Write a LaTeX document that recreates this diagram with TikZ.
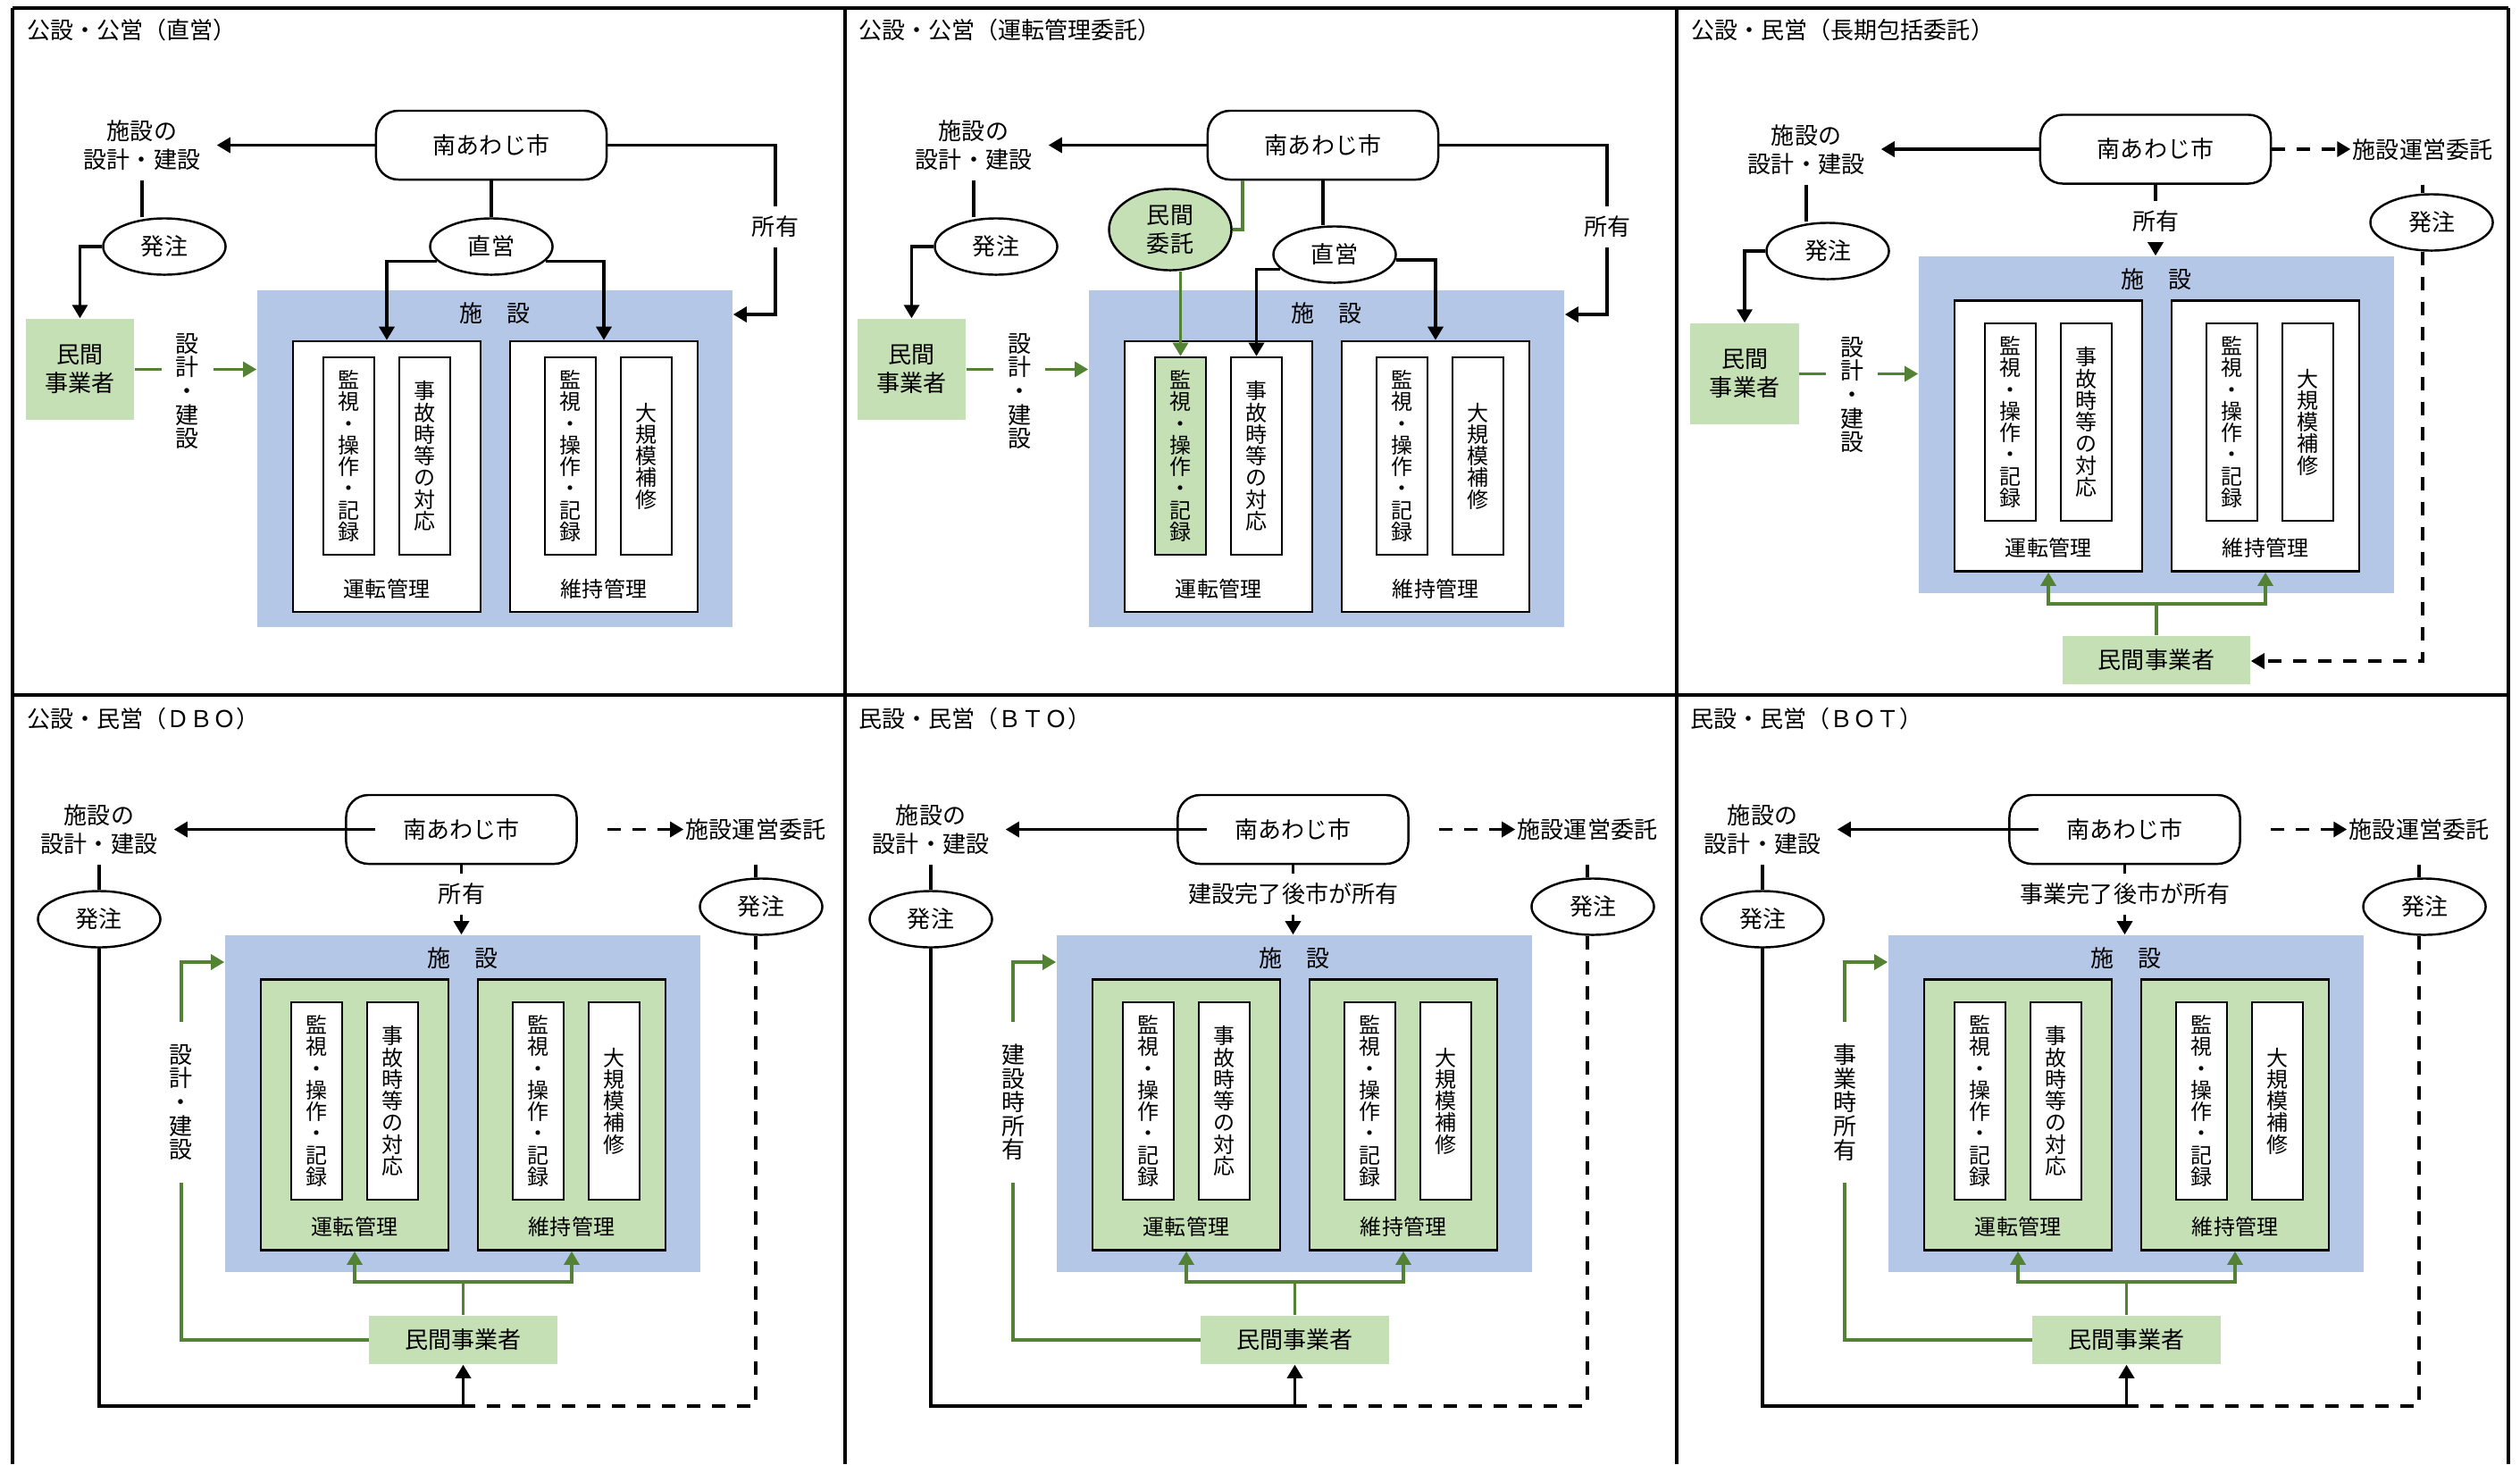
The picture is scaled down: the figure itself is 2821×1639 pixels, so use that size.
\documentclass[tikz,border=0pt]{standalone}
\usepackage{fontspec}
\setmainfont{Noto Sans CJK JP}
\usetikzlibrary{arrows.meta,shapes.geometric}
\definecolor{bfill}{HTML}{B4C7E7}
\definecolor{gfill}{HTML}{C5E0B4}
\definecolor{gline}{HTML}{548235}
\newcommand\fA{\fontsize{7.4pt}{9.1pt}\selectfont}
\newcommand\fB{\fontsize{6.83pt}{6.9pt}\selectfont\lineskiplimit=-20pt}
\newcommand\fC{\fontsize{7.4pt}{7.55pt}\selectfont\lineskiplimit=-20pt}
\newcommand\fD{\fontsize{6.83pt}{8pt}\selectfont}
\tikzset{
  frameline/.style={line width=0.9pt},
  bl/.style={line width=0.95pt},
  arr/.style={bl,-{Triangle[length=0.15cm,width=0.17cm]}},
  dl/.style={bl,dash pattern=on 0.15cm off 0.13cm},
  darr/.style={dl,-{Triangle[length=0.15cm,width=0.17cm]}},
  gl/.style={line width=0.9pt,draw=gline},
  garr/.style={gl,-{Triangle[length=0.15cm,width=0.17cm]}},
  ttl/.style={anchor=west,inner sep=0pt,font=\fA},
  city/.style={draw,line width=0.7pt,rounded corners=0.25cm,minimum width=2.58cm,minimum height=0.77cm,inner sep=0pt,font=\fA},
  cityc/.style={minimum width=2.58cm,minimum height=0.77cm,inner sep=0pt},
  des/.style={font=\fA,align=center,inner xsep=0.18cm,inner ysep=0pt,minimum height=0.76cm},
  desb/.style={font=\fA,inner xsep=0.02cm,inner ysep=0pt,minimum height=0.76cm},
  ell/.style={ellipse,draw,line width=0.7pt,fill=white,minimum width=1.37cm,minimum height=0.63cm,inner sep=0pt,font=\fA,align=center},
  minA/.style={fill=gfill,align=center,font=\fA,minimum width=1.21cm,minimum height=1.13cm,inner sep=0pt},
  minB/.style={fill=gfill,font=\fA,minimum width=2.10cm,minimum height=0.54cm,inner sep=0pt},
  lab/.style={font=\fA,fill=white,inner sep=0.11cm},
  vlab/.style={font=\fC,align=center,fill=white,inner xsep=0.05cm,inner ysep=0.02cm},
  facbox/.style={fill=bfill,minimum width=5.32cm,minimum height=3.77cm,inner sep=0pt},
  mg/.style={draw,line width=0.7pt,minimum width=2.10cm,minimum height=3.03cm,inner sep=0pt},
  inn/.style={draw,line width=0.7pt,fill=white,minimum width=0.57cm,minimum height=2.21cm,inner sep=0pt,align=center,font=\fB},
}
% facility block: prefix, X, Y, centre offset of management boxes, label offset, mgmt fill, first inner fill
\newcommand\mkfac[7]{%
  \node[facbox] (#1-fac) at ({#2+266},{#3+188.5}) {};
  \node[font=\fA,inner sep=0pt] (#1-ft) at ({#2+266},{#3+26}) {施\hspace{1em}設};
  \node[mg,fill=#6] (#1-op) at ({#2+145},{#3+#4}) {};
  \node[mg,fill=#6] (#1-mt) at ({#2+388},{#3+#4}) {};
  \node[inn,fill=#7] (#1-i1) at ({#2+102.5},{#3+185.5}) {監\\視\\・\\操\\作\\・\\記\\録};
  \node[inn] (#1-i2) at ({#2+187.5},{#3+185.5}) {事\\故\\時\\等\\の\\対\\応};
  \node[inn] (#1-i3) at ({#2+350.5},{#3+185.5}) {監\\視\\・\\操\\作\\・\\記\\録};
  \node[inn] (#1-i4) at ({#2+435.5},{#3+185.5}) {大\\規\\模\\補\\修};
  \node[font=\fD,inner sep=0pt] (#1-opl) at ({#2+145},{#3+#5}) {運転管理};
  \node[font=\fD,inner sep=0pt] (#1-mtl) at ({#2+388},{#3+#5}) {維持管理};
}
% bottom-row panel: prefix, title, ownership label, vertical label
\newcommand\mkbottom[4]{%
  \node[ttl] (#1-ttl) at (30,805) {#2};
  \node[city] (#1-city) at (516.5,928.5) {南あわじ市};
  \node[cityc] (#1-cityc) at (550,928.5) {};
  \node[des] (#1-des) at (111,929) {施設の\\設計・建設};
  \node[ell] (#1-hachu) at (111,1029) {発注};
  \node[desb] (#1-unei) at (846,929) {施設運営委託};
  \node[ell] (#1-hachu2) at (852,1015) {発注};
  \mkfac{#1}{252}{1047}{201}{326}{gfill}{white}
  \node[minB] (#1-min2) at (518.5,1500) {民間事業者};
  \coordinate (#1-jn) at (518.5,1574);
  \coordinate (#1-gj) at (518.5,1435);
  \coordinate (#1-gc) at (203,1077);
  \draw[arr] (#1-cityc.west) -- (#1-cityc.west -| #1-des.east);
  \draw[darr] (#1-cityc.east) -- (#1-cityc.east -| #1-unei.west);
  \draw[bl] (#1-des.south) -- (#1-des.south |- #1-hachu.north);
  \draw[bl] (#1-unei.south) -- (#1-unei.south |- #1-hachu2.north);
  \draw[bl] (#1-hachu.south) |- (#1-jn);
  \draw[dl] (#1-unei.south |- #1-hachu2.south) |- (#1-jn);
  \draw[arr] (#1-jn) -- (#1-min2.south);
  \draw[arr] (#1-city.south) -- (#1-city.south |- #1-fac.north);
  \node[lab] (#1-own) at (517,1001) {#3};
  \draw[gl] (#1-min2.north) -- (#1-gj);
  \draw[garr] (#1-gj) -| (#1-op.south);
  \draw[garr] (#1-gj) -| (#1-mt.south);
  \draw[garr] (#1-min2.west) -| (#1-gc) -- (#1-gc -| #1-fac.west);
  \node[vlab,inner ysep=0.25cm] (#1-vl) at (203,1234) {#4};
}
\begin{document}
\begin{tikzpicture}[x=0.01cm,y=-0.01cm]
\useasboundingbox (0,0) rectangle (2821,1639);
% frame
\draw[frameline] (14,9) -- (2808,9);
\draw[frameline] (14,778) -- (2808,778);
\draw[frameline] (14,9) -- (14,1639);
\draw[frameline] (946,9) -- (946,1639);
\draw[frameline] (1877,9) -- (1877,1639);
\draw[frameline] (2808,9) -- (2808,1639);

% ---------- Panel A ----------
\node[ttl] (a-ttl) at (30,34) {公設・公営（直営）};
\node[city] (a-city) at (550,162.5) {南あわじ市};
\node[des] (a-des) at (159,163) {施設の\\設計・建設};
\node[ell] (a-hachu) at (184,276) {発注};
\node[minA] (a-min) at (89.5,413.5) {民間\\事業者};
\node[ell] (a-choku) at (550,276) {直営};
\mkfac{a}{288}{325}{208.5}{334}{white}{white}
\coordinate (a-oc) at (868,352);
\draw[arr] (a-city.west) -- (a-city.west -| a-des.east);
\draw[bl] (a-des.south) -- (a-des.south |- a-hachu.north);
\draw[arr] (a-hachu.west) -| (a-min.north);
\draw[bl] (a-city.south) -- (a-choku.north);
\draw[arr] (a-choku.195) -| (a-op.north);
\draw[arr] (a-choku.345) -| (a-mt.north);
\draw[arr] (a-city.east) -| (a-oc) -- (a-oc -| a-fac.east);
\node[lab] (a-own) at (868,254) {所有};
\draw[garr] (a-min.east) -- (a-min.east -| a-fac.west);
\node[vlab,inner xsep=0.16cm] (a-vl) at (210,438) {設\\計\\・\\建\\設};

% ---------- Panel B ----------
\begin{scope}[shift={(931,0)}]
\node[ttl] (b-ttl) at (30,34) {公設・公営（運転管理委託）};
\node[city] (b-city) at (550,162.5) {南あわじ市};
\node[des] (b-des) at (159,163) {施設の\\設計・建設};
\node[ell] (b-hachu) at (184,276) {発注};
\node[minA] (b-min) at (89.5,413.5) {民間\\事業者};
\node[ell] (b-choku) at (563,285) {直営};
\node[ell,fill=gfill,minimum height=0.91cm] (b-mk) at (379,257) {民間\\委託};
\mkfac{b}{288}{325}{208.5}{334}{white}{gfill}
\coordinate (b-oc) at (868,352);
\coordinate (b-g1) at (460,257);
\draw[arr] (b-city.west) -- (b-city.west -| b-des.east);
\draw[bl] (b-des.south) -- (b-des.south |- b-hachu.north);
\draw[arr] (b-hachu.west) -| (b-min.north);
\draw[bl] (b-city.south) -- (b-city.south |- b-choku.north);
\draw[arr] (b-choku.195) -| (b-i2.north);
\draw[arr] (b-choku.355) -| (b-mt.north);
\draw[gl] (b-mk.east) -- (b-g1) -- (b-g1 |- b-city.south);
\draw[garr] (b-i1.north |- b-mk.south) -- (b-i1.north);
\draw[arr] (b-city.east) -| (b-oc) -- (b-oc -| b-fac.east);
\node[lab] (b-own) at (868,254) {所有};
\draw[garr] (b-min.east) -- (b-min.east -| b-fac.west);
\node[vlab,inner xsep=0.16cm] (b-vl) at (210,438) {設\\計\\・\\建\\設};
\end{scope}

% ---------- Panel C ----------
\begin{scope}[shift={(1862,0)}]
\node[ttl] (c-ttl) at (31,34) {公設・民営（長期包括委託）};
\node[city] (c-city) at (551,167) {南あわじ市};
\node[des] (c-des) at (160,168) {施設の\\設計・建設};
\node[ell] (c-hachu) at (184,281) {発注};
\node[minA] (c-min) at (91,418.5) {民間\\事業者};
\mkfac{c}{286}{287}{201}{326}{white}{white}
\node[desb] (c-unei) at (850,168) {施設運営委託};
\node[ell] (c-hachu2) at (860,249) {発注};
\node[minB] (c-min2) at (552,739) {民間事業者};
\coordinate (c-dc) at (850,740);
\coordinate (c-gj) at (552,676);
\draw[arr] (c-city.west) -- (c-city.west -| c-des.east);
\draw[bl] (c-des.south) -- (c-des.south |- c-hachu.north);
\draw[arr] (c-hachu.west) -| (c-min.north);
\draw[garr] (c-min.east) -- (c-min.east -| c-fac.west);
\node[vlab,inner xsep=0.16cm] (c-vl) at (211,442) {設\\計\\・\\建\\設};
\draw[arr] (c-city.south) -- (c-city.south |- c-fac.north);
\node[lab] (c-own) at (551,248) {所有};
\draw[darr] (c-city.east) -- (c-city.east -| c-unei.west);
\draw[bl] (c-unei.south) -- (c-unei.south |- c-hachu2.north);
\draw[darr] (c-unei.south |- c-hachu2.south) -- (c-dc) -- (c-dc -| c-min2.east);
\draw[gl] (c-min2.north) -- (c-gj);
\draw[garr] (c-gj) -| (c-op.south);
\draw[garr] (c-gj) -| (c-mt.south);
\end{scope}

% ---------- Bottom row ----------
\begin{scope}
\mkbottom{d}{公設・民営（ＤＢＯ）}{所有}{設\\計\\・\\建\\設}
\end{scope}
\begin{scope}[shift={(931,0)}]
\mkbottom{e}{民設・民営（ＢＴＯ）}{建設完了後市が所有}{建\\設\\時\\所\\有}
\end{scope}
\begin{scope}[shift={(1862,0)}]
\mkbottom{f}{民設・民営（ＢＯＴ）}{事業完了後市が所有}{事\\業\\時\\所\\有}
\end{scope}
\end{tikzpicture}
\end{document}
